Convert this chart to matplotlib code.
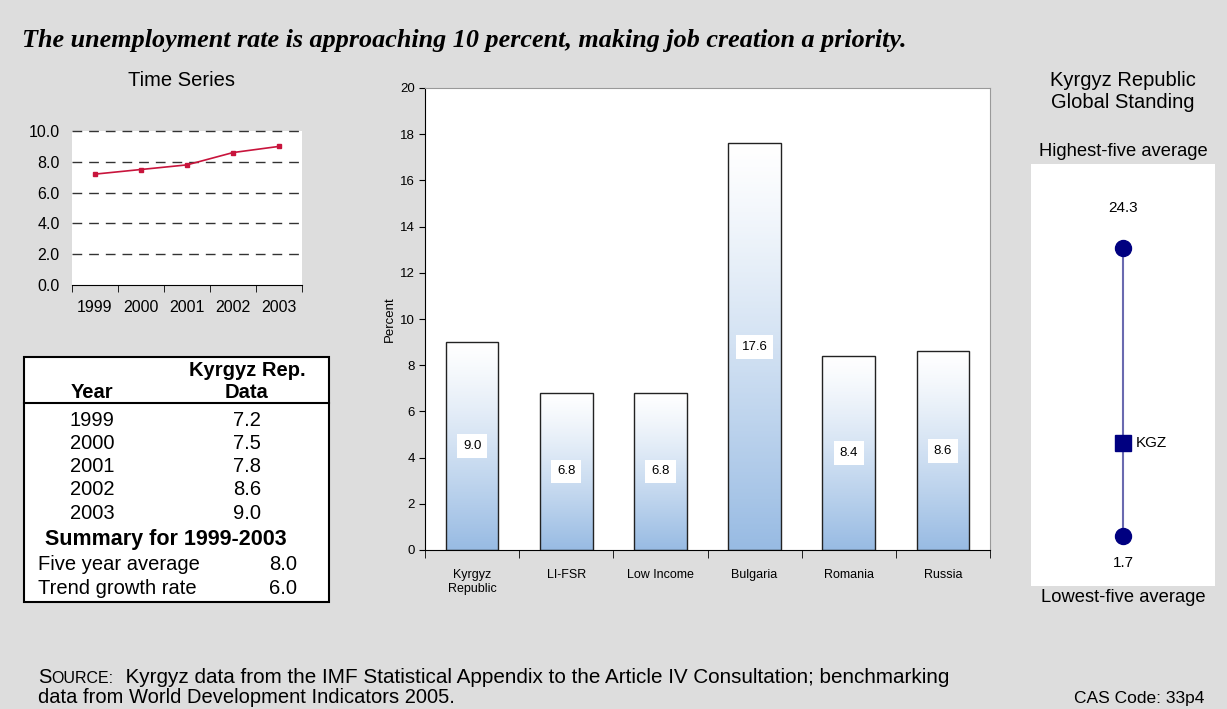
import numpy as np
import matplotlib
matplotlib.use('Agg')
import matplotlib.pyplot as plt
from matplotlib import font_manager
from matplotlib.patches import Rectangle
from matplotlib.lines import Line2D
from matplotlib.colors import LinearSegmentedColormap

# Serie temporelle Kirghizistan (taux de chomage, %)
years = ['1999', '2000', '2001', '2002', '2003']
kgz_rate = [7.2, 7.5, 7.8, 8.6, 9.0]
five_year_avg = 8.0
trend_growth = 6.0

# Comparaison avec les pays de reference
bar_labels = ['Kyrgyz\nRepublic', 'LI-FSR', 'Low Income', 'Bulgaria', 'Romania', 'Russia']
bar_values = [9.0, 6.8, 6.8, 17.6, 8.4, 8.6]

# Position mondiale
highest_five = 24.3
lowest_five = 1.7
kgz_standing = 9.0

W, H = 1227, 709
BG = '#DDDDDD'

installed = {f.name for f in font_manager.fontManager.ttflist}
SANS = 'Liberation Sans' if 'Liberation Sans' in installed else 'DejaVu Sans'
NARROW = 'Liberation Sans Narrow' if 'Liberation Sans Narrow' in installed else SANS
SERIF = 'Liberation Serif' if 'Liberation Serif' in installed else 'DejaVu Serif'
plt.rcParams['font.family'] = SANS


def fx(x):
    return x / W


def fy(y):
    return 1 - y / H


fig = plt.figure(figsize=(W / 100, H / 100), dpi=100, facecolor=BG)

fig.text(fx(22), fy(40), 'The unemployment rate is approaching 10 percent, making job creation a priority.',
         family=SERIF, fontsize=18.8, fontweight='bold', style='italic', va='center', ha='left')

# --- Serie temporelle ---
ax1 = fig.add_axes([fx(72), fy(285), fx(302) - fx(72), fy(131) - fy(285)])
ax1.set_facecolor('white')
x_ts = np.arange(len(years))
ax1.plot(x_ts, kgz_rate, color='#C8143C', lw=1.2, marker='s', markersize=3.5, zorder=3)
ax1.set_xlim(-0.5, len(years) - 0.5)
ax1.set_ylim(0, 10)
ax1.set_yticks(np.arange(0, 10.1, 2))
ax1.set_yticklabels([f'{v:.1f}' for v in np.arange(0, 10.1, 2)])
for v in np.arange(2, 10.1, 2):
    ax1.axhline(v, color='#333333', lw=1, ls=(0, (7, 5)), zorder=1, clip_on=False)
ax1.set_xticks(x_ts)
ax1.set_xticklabels(years)
ax1.set_xticks(np.arange(-0.5, len(years)), minor=True)
ax1.tick_params(axis='x', which='major', length=0, labelsize=11.5, pad=11)
ax1.tick_params(axis='x', which='minor', length=5, color='black', direction='out')
ax1.tick_params(axis='y', length=0, labelsize=11.5, pad=9)
for s in ['left', 'right', 'top']:
    ax1.spines[s].set_visible(False)
ax1.spines['bottom'].set_color('black')
fig.text(fx(181), fy(80), 'Time Series', fontsize=14.5, ha='center', va='center')

# --- Tableau ---
fig.patches.append(Rectangle((fx(24), fy(602)), fx(329) - fx(24), fy(357) - fy(602),
                             transform=fig.transFigure, facecolor='white', edgecolor='black', lw=1.5))
fig.lines.append(Line2D([fx(24), fx(329)], [fy(403), fy(403)], transform=fig.transFigure,
                        color='black', lw=1.5))
tfs = 14.5
col_year, col_data = 92, 247
fig.text(fx(col_data), fy(370), 'Kyrgyz Rep.', fontsize=tfs, fontweight='bold', ha='center', va='center')
fig.text(fx(col_year), fy(393), 'Year', fontsize=tfs, fontweight='bold', ha='center', va='center')
fig.text(fx(col_data), fy(393), 'Data', fontsize=tfs, fontweight='bold', ha='center', va='center')
for i, (yr, v) in enumerate(zip(years, kgz_rate)):
    yy = 420 + i * 23.3
    fig.text(fx(col_year), fy(yy), yr, fontsize=tfs, ha='center', va='center')
    fig.text(fx(col_data), fy(yy), f'{v:.1f}', fontsize=tfs, ha='center', va='center')
fig.text(fx(166), fy(539), f'Summary for {years[0]}-{years[-1]}', fontsize=15.5, fontweight='bold',
         ha='center', va='center')
fig.text(fx(38), fy(565), 'Five year average', fontsize=tfs, ha='left', va='center')
fig.text(fx(297), fy(565), f'{five_year_avg:.1f}', fontsize=tfs, ha='right', va='center')
fig.text(fx(38), fy(588), 'Trend growth rate', fontsize=tfs, ha='left', va='center')
fig.text(fx(297), fy(588), f'{trend_growth:.1f}', fontsize=tfs, ha='right', va='center')

# --- Barres ---
ax2 = fig.add_axes([fx(425), fy(550), fx(990) - fx(425), fy(88) - fy(550)])
ax2.set_facecolor('white')
cmap = LinearSegmentedColormap.from_list('bleu', ['white', '#98BBE3'])
grad = np.linspace(0, 1, 256).reshape(-1, 1) ** 1.2
x_b = np.arange(len(bar_values))
bw = 0.56
for xi, v in zip(x_b, bar_values):
    ax2.imshow(grad, cmap=cmap, aspect='auto', origin='upper',
               extent=[xi - bw / 2, xi + bw / 2, 0, v], zorder=1)
    ax2.text(xi, v / 2, f'{v:.1f}', ha='center', va='center', fontsize=9.5, family=NARROW,
             bbox=dict(boxstyle='square,pad=0.45', facecolor='white', edgecolor='none'), zorder=4)
ax2.bar(x_b, bar_values, width=bw, fill=False, edgecolor='#222222', lw=1, zorder=3)
ax2.set_xlim(-0.5, len(bar_values) - 0.5)
ax2.set_ylim(0, 20)
ax2.set_yticks(np.arange(0, 21, 2))
ax2.tick_params(axis='y', labelsize=9.5, length=4, direction='out', color='black')
for lb in ax2.get_yticklabels():
    lb.set_family(NARROW)
ax2.set_xticks(x_b)
ax2.set_xticklabels(bar_labels, fontsize=9, family=NARROW)
ax2.set_xticks(np.arange(-0.5, len(bar_values)), minor=True)
ax2.tick_params(axis='x', which='major', length=0, pad=14)
ax2.tick_params(axis='x', which='minor', length=6, direction='out', color='black')
ax2.set_ylabel('Percent', fontsize=9.5, labelpad=3)
ax2.spines['left'].set_color('black')
ax2.spines['bottom'].set_color('black')
for s in ['top', 'right']:
    ax2.spines[s].set_color('#999999')
    ax2.spines[s].set_linewidth(0.8)

# --- Position mondiale ---
ax3 = fig.add_axes([fx(1031), fy(586), fx(1215) - fx(1031), fy(164) - fy(586)])
ax3.set_facecolor('white')
ax3.set_xlim(0, 1)
ax3.set_ylim(-2.2, 30.9)
ax3.plot([0.5, 0.5], [lowest_five, highest_five], color='#6A6AB0', lw=1.5, zorder=1)
ax3.plot([0.5, 0.5], [lowest_five, highest_five], ls='none', marker='o', markersize=11.5,
         color='#000080', zorder=2)
ax3.plot([0.5], [kgz_standing], ls='none', marker='s', markersize=12, color='#000080', zorder=3)
ax3.annotate(f'{highest_five:.1f}', (0.5, highest_five), xytext=(0, 29), textcoords='offset points',
             ha='center', va='center', fontsize=11)
ax3.annotate(f'{lowest_five:.1f}', (0.5, lowest_five), xytext=(0, -19.5), textcoords='offset points',
             ha='center', va='center', fontsize=11)
ax3.annotate('KGZ', (0.5, kgz_standing), xytext=(9, 0), textcoords='offset points',
             ha='left', va='center', fontsize=11)
ax3.set_xticks([])
ax3.set_yticks([])
for s in ax3.spines.values():
    s.set_visible(False)
fig.text(fx(1123), fy(80), 'Kyrgyz Republic', fontsize=14.5, ha='center', va='center')
fig.text(fx(1123), fy(103), 'Global Standing', fontsize=14.5, ha='center', va='center')
fig.text(fx(1123), fy(151), 'Highest-five average', fontsize=13.2, ha='center', va='center')
fig.text(fx(1123), fy(598), 'Lowest-five average', fontsize=13.2, ha='center', va='center')

# --- Source ---
r = fig.canvas.get_renderer()
t_s = fig.text(fx(38), fy(683), 'S', fontsize=14.5, va='baseline', ha='left')
x_next = t_s.get_window_extent(r).x1
t_o = fig.text(x_next / W, fy(683), 'OURCE:', fontsize=11.5, va='baseline', ha='left')
x_next = t_o.get_window_extent(r).x1
fig.text(x_next / W, fy(683),
         '  Kyrgyz data from the IMF Statistical Appendix to the Article IV Consultation; benchmarking',
         fontsize=14.9, va='baseline', ha='left')
fig.text(fx(38), fy(703), 'data from World Development Indicators 2005.', fontsize=14.5,
         va='baseline', ha='left')
fig.text(fx(1204), fy(703), 'CAS Code: 33p4', fontsize=12.5, va='baseline', ha='right')

fig.savefig('out.png', dpi=100, facecolor=BG)
